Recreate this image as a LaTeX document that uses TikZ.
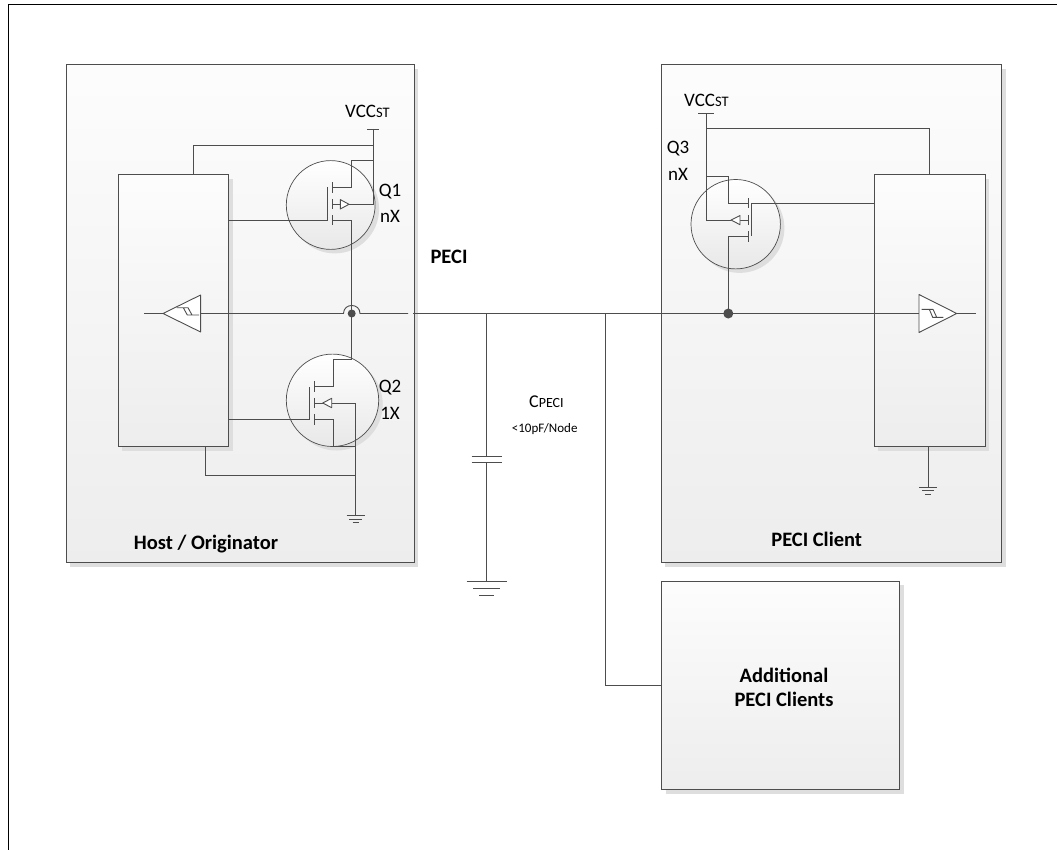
\documentclass[tikz,border=0pt]{standalone}
\usepackage{fontspec}
\setmainfont{Carlito}
\usetikzlibrary{calc}
\definecolor{ln}{HTML}{4D4D4D}
\definecolor{shd}{HTML}{DEDEDE}
\tikzset{
 x=1pt,y=-1pt,
 wire/.style={draw=ln,line width=0.9pt},
 boxshape/.style={draw=ln,line width=1pt,top color=black!1,bottom color=black!7,anchor=north west,inner sep=0,outer sep=0},
 fet/.style={circle,draw=ln,line width=0.7pt,top color=white,bottom color=black!9,inner sep=0,outer sep=0},
 fetshadow/.style={circle,fill=shd,inner sep=0,outer sep=0},
 boxshadow/.style={fill=shd},
 dotj/.style={circle,fill=ln,inner sep=0,outer sep=0},
 lab/.style={font=\fontsize{19}{21}\selectfont,text=black,inner sep=0},
 blab/.style={font=\fontsize{20.5}{24}\bfseries\selectfont,text=black,inner sep=0,align=center},
 tri/.style={draw=ln,line width=0.9pt,fill=white,line join=round},
 hyst/.style={draw=ln,line width=0.9pt}
}
\newcommand{\vccst}{VCC{\fontsize{14.5}{14}\selectfont ST}}
\newcommand{\cpeci}{C{\fontsize{14}{14}\selectfont PECI}}
\begin{document}
\begin{tikzpicture}
\useasboundingbox (0,0) rectangle (1057,850);
\fill[white] (0,0) rectangle (1057,850);
% outer frame
\coordinate (fbl) at (8.7,850); \coordinate (ftl) at (8.7,4.4);
\coordinate (ftr) at (1057,4.4);
\draw[black,line width=1.3pt] (fbl)--(ftl)--(ftr);
% panel shadows
\fill[boxshadow] (70,69) rectangle (418,567);
\fill[boxshadow] (665,69) rectangle (1006,567);
\fill[boxshadow] (666,585) rectangle (904,794);
% panels
\node[boxshape,minimum width=348pt,minimum height=497pt] (host) at (66,65) {};
\node[boxshape,minimum width=340.5pt,minimum height=497pt] (client) at (661,65) {};
\node[boxshape,minimum width=238pt,minimum height=208pt] (extra) at (661,581) {};
\node[blab] (extratext) at (784,687) {Additional\\PECI Clients};
\node[blab] (hosttext) at (206,544) {Host / Originator};
\node[blab] (clienttext) at (816.7,539.5) {PECI Client};
\node[blab] (pecitext) at (449,256.5) {PECI};
% chip shadows and chips
\fill[boxshadow] (122,179) rectangle (233,451);
\fill[boxshadow] (878,179) rectangle (989,451);
\node[boxshape,minimum width=110.5pt,minimum height=271.5pt] (chipL) at (118,175) {};
\node[boxshape,minimum width=111pt,minimum height=271.5pt] (chipR) at (874,174.5) {};
% FET circles
\node[fetshadow,minimum size=88.8pt] at (334.7,209) {};
\node[fetshadow,minimum size=92.4pt] at (336.5,404.3) {};
\node[fetshadow,minimum size=89.4pt] at (739.7,228.2) {};
\node[fet,minimum size=88.8pt] (q1) at (330.7,205) {};
\node[fet,minimum size=92.4pt] (q2) at (332.5,400.3) {};
\node[fet,minimum size=89.4pt] (q3) at (735.7,224.2) {};
% Labels
\node[lab,anchor=west] (vccL) at (345,111) {\vccst};
\node[lab,anchor=west] (vccR) at (684,100) {\vccst};
\node[lab] (q1a) at (390,191.7) {Q1};
\node[lab] (q1b) at (390,216.7) {nX};
\node[lab] (q2a) at (390,388) {Q2};
\node[lab] (q2b) at (390,413) {1X};
\node[lab] (q3a) at (678,149) {Q3};
\node[lab] (q3b) at (678,174) {nX};
\node[lab,anchor=west,font=\fontsize{18}{20}\selectfont] (cap1) at (529,401.7) {\cpeci};
\node[lab,anchor=west,font=\fontsize{13}{14}\selectfont] (cap2) at (511.7,429) {<10pF/Node};
% Named points
\coordinate (jL) at (351.7,313.5);
\coordinate (jR) at (728.3,313.5);
\coordinate (jC) at (486.7,313.5);
\coordinate (jX) at (605.5,313.5);
\coordinate (hopL) at (343.5,313.5);
\coordinate (hopR) at (360,313.5);
\coordinate (gndL) at (355.3,515.7);
\coordinate (gndR) at (928,487);
\coordinate (gndC) at (486.7,581.7);
\coordinate (vddL) at (373.3,129);
\coordinate (vddR) at (706.3,113.3);
% Bus
\coordinate (bufLout) at (200.6,313.5);
\coordinate (bufLtip) at (163,313.5);
\coordinate (bufLin) at (144,313.5);
\coordinate (bufRin) at (919,313.5);
\coordinate (bufRtip) at (956.7,313.5);
\coordinate (bufRout) at (976,313.5);
\coordinate (busM) at (408,313.5);
\coordinate (busN) at (413,313.5);
\draw[wire] (bufLin)--(bufLtip) (bufLout)--(hopL);
\draw[wire] (hopL) .. controls ($(hopL)+(0,-10.7)$) and ($(hopR)+(0,-10.7)$) .. (hopR) -- (busM);
\draw[wire] (busN)--(bufRin) (bufRtip)--(bufRout);
\draw[tri] (bufLout |- 0,295)--(bufLtip)--(bufLout |- 0,332)--cycle;
\draw[tri] (bufRin |- 0,294.5)--(bufRtip)--(bufRin |- 0,332.5)--cycle;
% hysteresis
\draw[hyst] (176.7,307.7)--(188,307.7) (183.3,307.7)--(187.3,315)--(199,315) (188,307.7)--(192,315);
\draw[hyst] (921.7,309.3)--(933,309.3) (929.3,309.3)--(932.7,317.3)--(943.3,317.3) (933,309.3)--(936.7,317.3);
% Q1
\coordinate (q1gt) at (327.7,187.3);
\coordinate (q1gb) at (327.7,220);
\draw[wire] (q1gb -| chipL.east)--(q1gb)--(q1gt);
\draw[wire] (332,182.3)--(332,192.7) (332,199.3)--(332,208.7) (332,215.3)--(332,225.3);
\draw[wire] (332,187.3)--(351.7,187.3)--(351.7,160.3)--(vddL |- 0,160.3);
\draw[wire] (332,220)--(351.7,220)--(jL);
\draw[wire] (vddL)--(373.3,204.3)--(349,204.3);
\draw[wire] (332,204.3)--(340.3,204.3);
\draw[tri] (340.3,199.6)--(349,204.3)--(340.3,209)--cycle;
\draw[wire] (367,129)--(379,129);
\draw[wire] (193.3,0 |- chipL.north)--(193.3,145)--(373.3,145);
% Q2
\coordinate (q2gt) at (309.7,386.7);
\coordinate (q2gb) at (309.7,419);
\draw[wire] (q2gb -| chipL.east)--(q2gb)--(q2gt);
\draw[wire] (314,381.3)--(314,391.7) (314,398.3)--(314,407.7) (314,414.3)--(314,424.7);
\draw[wire] (314,386.7)--(333.7,386.7)--(333.7,359.3)--(351.7,359.3)--(jL);
\draw[wire] (314,419)--(333.7,419)--(333.7,446.7)--(355.3,446.7);
\draw[wire] (314,403)--(322.7,403);
\draw[wire] (331.7,403)--(355.3,403)--(gndL);
\draw[tri] (331.7,398.3)--(322.7,403)--(331.7,407.7)--cycle;
\draw[wire] (205,0 |- chipL.south)--(205,475.3)--(355.3,475.3);
\draw[wire] (346.7,515.7)--(365,515.7) (349.3,519)--(362.3,519) (352.7,522.3)--(359.3,522.3);
% Q3
\coordinate (q3gt) at (751.7,203.7);
\coordinate (q3gb) at (751.7,236.3);
\draw[wire] (q3gt -| chipR.west)--(q3gt)--(q3gb);
\draw[wire] (748,198.3)--(748,208.3) (748,215)--(748,224.7) (748,231)--(748,241.7);
\draw[wire] (748,203.7)--(728.3,203.7)--(728.3,176.3)--(706.3,176.3);
\draw[wire] (748,236.3)--(728.3,236.3)--(jR);
\draw[wire] (vddR)--(706.3,220)--(731,220);
\draw[wire] (740,220)--(748,220);
\draw[tri] (740,215.5)--(731,220)--(740,224.7)--cycle;
\draw[wire] (698.3,113.3)--(714.3,113.3);
\draw[wire] (706.3,128.3)--(929.3,128.3)--(929.3,0 |- chipR.north);
% chip R ground
\draw[wire] (928,0 |- chipR.south)--(gndR);
\draw[wire] (919,487)--(937,487) (922,490.5)--(934,490.5) (925,494)--(931,494);
% Capacitor and ground
\draw[wire] (jC)--(486.7,456);
\draw[wire] (471.7,456)--(501.7,456) (471.7,462.7)--(501.7,462.7);
\draw[wire] (486.7,462.7)--(gndC);
\draw[wire] (466.7,581.7)--(506.7,581.7) (473.3,588.3)--(500,588.3) (479.3,595)--(494,595);
% Additional client connector
\draw[wire] (jX)--(605.5,685)--(605.5,685 -| extra.west);
% Dots
\node[dotj,minimum size=8pt] (dotL) at (jL) {};
\node[dotj,minimum size=10pt] (dotR) at (jR) {};
\end{tikzpicture}
\end{document}
